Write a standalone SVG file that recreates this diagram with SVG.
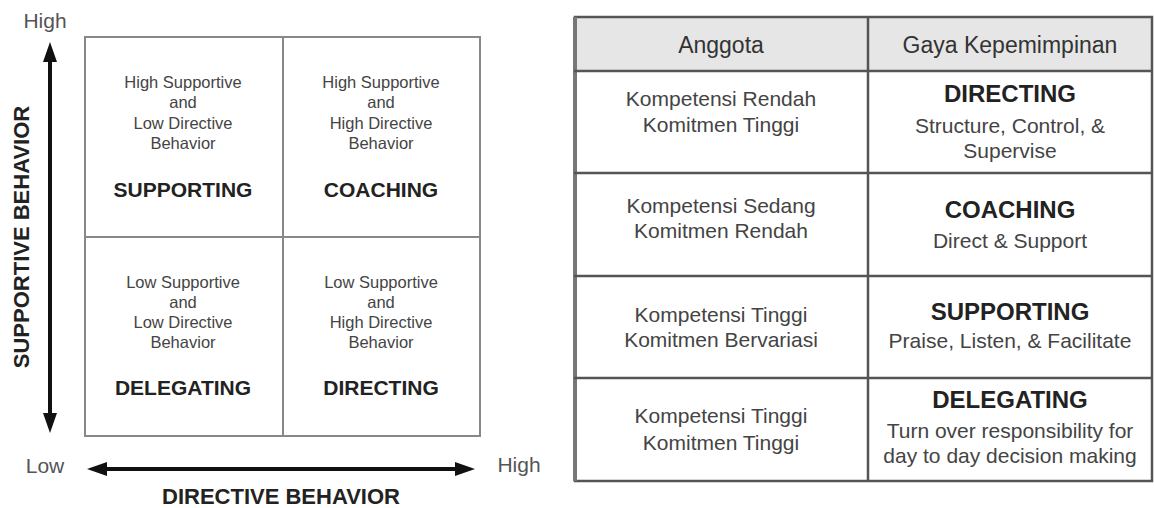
<svg xmlns="http://www.w3.org/2000/svg" width="1154" height="508" viewBox="0 0 1154 508">
<defs>
<marker id="ah" markerUnits="userSpaceOnUse" markerWidth="22" markerHeight="16" refX="2" refY="7" orient="auto-start-reverse">
<path d="M0,0 L20,7 L0,14 z" fill="#111"/>
</marker>
<style>
text{font-family:"Liberation Sans",Arial,sans-serif;text-anchor:middle}
.sm{font-size:16.5px;fill:#444}
.bq{font-size:21px;font-weight:bold;fill:#222}
.ax{font-size:21px;fill:#555}
.axb{font-size:22px;font-weight:bold;fill:#222}
.grid{fill:none;stroke:#888;stroke-width:2}
.arr{stroke:#111;stroke-width:4;fill:none}
.tl{stroke:#555;stroke-width:2.5;fill:none}
.th{font-size:23px;fill:#333}
.td{font-size:21px;fill:#444}
.tb{font-size:24px;font-weight:bold;fill:#222}
</style>
</defs>
<rect width="1154" height="508" fill="#fff"/>

<g id="connectors">
<line class="arr" x1="50" y1="60" x2="50" y2="415" marker-start="url(#ah)" marker-end="url(#ah)"/>
<line class="arr" x1="105" y1="469" x2="457" y2="469" marker-start="url(#ah)" marker-end="url(#ah)"/>
</g>

<g id="axes-labels">
<text class="ax" x="45" y="28">High</text>
<text class="ax" x="45" y="473">Low</text>
<text class="ax" x="519" y="472">High</text>
<text class="axb" transform="translate(29,237) rotate(-90)">SUPPORTIVE BEHAVIOR</text>
<text class="axb" x="281" y="504">DIRECTIVE BEHAVIOR</text>
</g>

<g id="grid">
<rect class="grid" x="85" y="37" width="395" height="399"/>
<line class="grid" x1="283" y1="37" x2="283" y2="436"/>
<line class="grid" x1="85" y1="237" x2="480" y2="237"/>
</g>

<g id="q-supporting">
<text class="sm" x="183" y="88">High Supportive</text>
<text class="sm" x="183" y="108">and</text>
<text class="sm" x="183" y="129">Low Directive</text>
<text class="sm" x="183" y="149">Behavior</text>
<text class="bq" x="183" y="197">SUPPORTING</text>
</g>
<g id="q-coaching">
<text class="sm" x="381" y="88">High Supportive</text>
<text class="sm" x="381" y="108">and</text>
<text class="sm" x="381" y="129">High Directive</text>
<text class="sm" x="381" y="149">Behavior</text>
<text class="bq" x="381" y="197">COACHING</text>
</g>
<g id="q-delegating">
<text class="sm" x="183" y="288">Low Supportive</text>
<text class="sm" x="183" y="308">and</text>
<text class="sm" x="183" y="328">Low Directive</text>
<text class="sm" x="183" y="348">Behavior</text>
<text class="bq" x="183" y="395">DELEGATING</text>
</g>
<g id="q-directing">
<text class="sm" x="381" y="288">Low Supportive</text>
<text class="sm" x="381" y="308">and</text>
<text class="sm" x="381" y="328">High Directive</text>
<text class="sm" x="381" y="348">Behavior</text>
<text class="bq" x="381" y="395">DIRECTING</text>
</g>

<g id="table">
<rect x="574" y="17" width="578" height="54" fill="#e6e6e6"/>
<rect class="tl" x="575" y="17" width="577" height="464"/>
<line x1="575" y1="17" x2="575" y2="481" stroke="#777" stroke-width="4"/>
<line class="tl" x1="574" y1="71" x2="1152" y2="71"/>
<line class="tl" x1="574" y1="173" x2="1152" y2="173"/>
<line class="tl" x1="574" y1="276" x2="1152" y2="276"/>
<line class="tl" x1="574" y1="378" x2="1152" y2="378"/>
<line class="tl" x1="868" y1="17" x2="868" y2="481"/>
</g>

<g id="header">
<text class="th" x="721" y="53">Anggota</text>
<text class="th" x="1010" y="53">Gaya Kepemimpinan</text>
</g>

<g id="row1">
<text class="td" x="721" y="106">Kompetensi Rendah</text>
<text class="td" x="721" y="132">Komitmen Tinggi</text>
<text class="tb" x="1010" y="102">DIRECTING</text>
<text class="td" x="1010" y="133">Structure, Control, &amp;</text>
<text class="td" x="1010" y="158">Supervise</text>
</g>
<g id="row2">
<text class="td" x="721" y="213">Kompetensi Sedang</text>
<text class="td" x="721" y="238">Komitmen Rendah</text>
<text class="tb" x="1010" y="218">COACHING</text>
<text class="td" x="1010" y="248">Direct &amp; Support</text>
</g>
<g id="row3">
<text class="td" x="721" y="322">Kompetensi Tinggi</text>
<text class="td" x="721" y="347">Komitmen Bervariasi</text>
<text class="tb" x="1010" y="320">SUPPORTING</text>
<text class="td" x="1010" y="348">Praise, Listen, &amp; Facilitate</text>
</g>
<g id="row4">
<text class="td" x="721" y="423">Kompetensi Tinggi</text>
<text class="td" x="721" y="450">Komitmen Tinggi</text>
<text class="tb" x="1010" y="408">DELEGATING</text>
<text class="td" x="1010" y="438">Turn over responsibility for</text>
<text class="td" x="1010" y="463">day to day decision making</text>
</g>
</svg>
